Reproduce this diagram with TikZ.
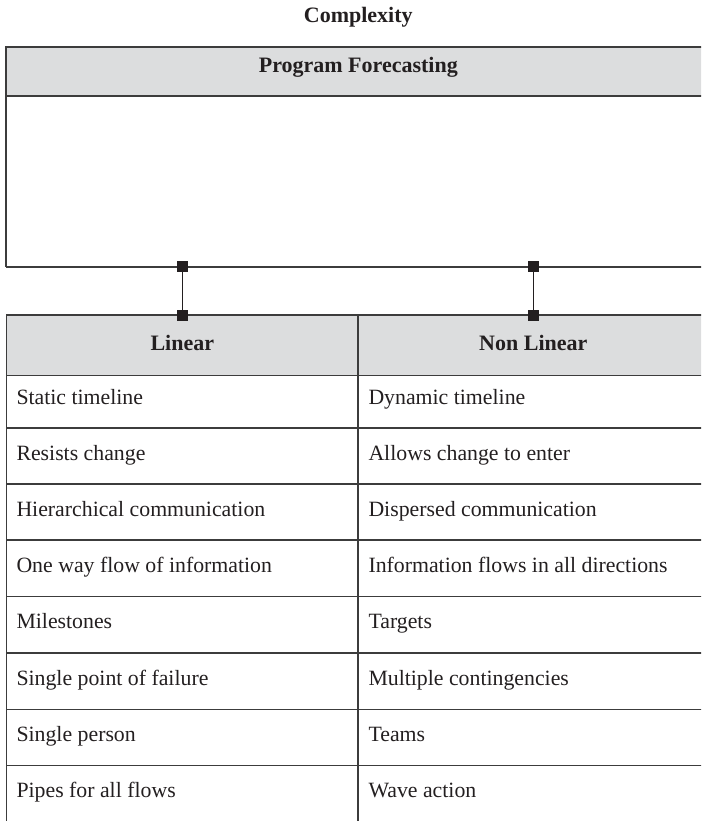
\documentclass[tikz,border=0pt]{standalone}
\usepackage{fontspec}
\setmainfont{Liberation Serif}
\definecolor{hdrgray}{HTML}{DCDDDE}
\definecolor{rulegray}{HTML}{3C3C3C}
\definecolor{ink}{HTML}{231F20}
\begin{document}
\begin{tikzpicture}[x=1pt,y=-1pt,
  rule/.style={draw=rulegray, line width=1.4pt},
  thickrule/.style={draw=rulegray, line width=2pt},
  cell/.style={anchor=base west, font=\fontsize{21.8}{26}\selectfont, text=ink, inner sep=0pt},
  boldtxt/.style={anchor=base, font=\fontsize{22}{26}\selectfont\bfseries, text=ink, inner sep=0pt},
  sq/.style={fill=ink, minimum size=11pt, inner sep=0pt, outer sep=0pt},
  link/.style={draw=ink, line width=1.1pt}]
\useasboundingbox (0,0) rectangle (701,821);
\begin{scope}
\clip (0,0) rectangle (701,821);
% Program Forecasting box
\fill[hdrgray] (6.3,47.3) rectangle (712,96.5);
\draw[thickrule] (6.3,266.7) -- (6.3,47.3) -- (712,47.3);
\draw[thickrule] (6.3,96.5) -- (712,96.5);
\draw[thickrule] (6.3,266.7) -- (712,266.7);
% Table
\fill[hdrgray] (6.3,315) rectangle (712,375.3);
\draw[rule] (6.3,830) -- (6.3,315) -- (712,315);
\draw[rule] (358,315) -- (358,830);
\foreach \yy in {375.3,428,484,540,596.7,653,709.3,765.7}
  \draw[rule] (6.3,\yy) -- (712,\yy);
\end{scope}
% texts
\node[boldtxt] (title) at (358.3,22.7) {Complexity};
\node[boldtxt] (pf) at (358.3,72.7) {Program Forecasting};
\node[boldtxt] (lin) at (182.3,350) {Linear};
\node[boldtxt] (nonlin) at (533.3,350) {Non Linear};
\node[cell] (l1) at (16.3,404.3) {Static timeline};
\node[cell] (l2) at (16.3,460) {Resists change};
\node[cell] (l3) at (16.3,516) {Hierarchical communication};
\node[cell] (l4) at (16.3,572) {One way flow of information};
\node[cell] (l5) at (16.3,628.8) {Milestones};
\node[cell] (l6) at (16.3,685) {Single point of failure};
\node[cell] (l7) at (16.3,741.5) {Single person};
\node[cell] (l8) at (16.3,797.8) {Pipes for all flows};
\node[cell] (r1) at (368.3,404.3) {Dynamic timeline};
\node[cell] (r2) at (368.3,460) {Allows change to enter};
\node[cell] (r3) at (368.3,516) {Dispersed communication};
\node[cell] (r4) at (368.3,572) {Information flows in all directions};
\node[cell] (r5) at (368.3,628.8) {Targets};
\node[cell] (r6) at (368.3,685) {Multiple contingencies};
\node[cell] (r7) at (368.3,741.5) {Teams};
\node[cell] (r8) at (368.3,797.8) {Wave action};
% connectors
\node[sq] (a1) at (182.3,266.7) {};
\node[sq] (a2) at (182.3,315) {};
\node[sq] (b1) at (533.3,266.7) {};
\node[sq] (b2) at (533.3,315) {};
\draw[link] (a1.center) -- (a2.center);
\draw[link] (b1.center) -- (b2.center);
\end{tikzpicture}
\end{document}
